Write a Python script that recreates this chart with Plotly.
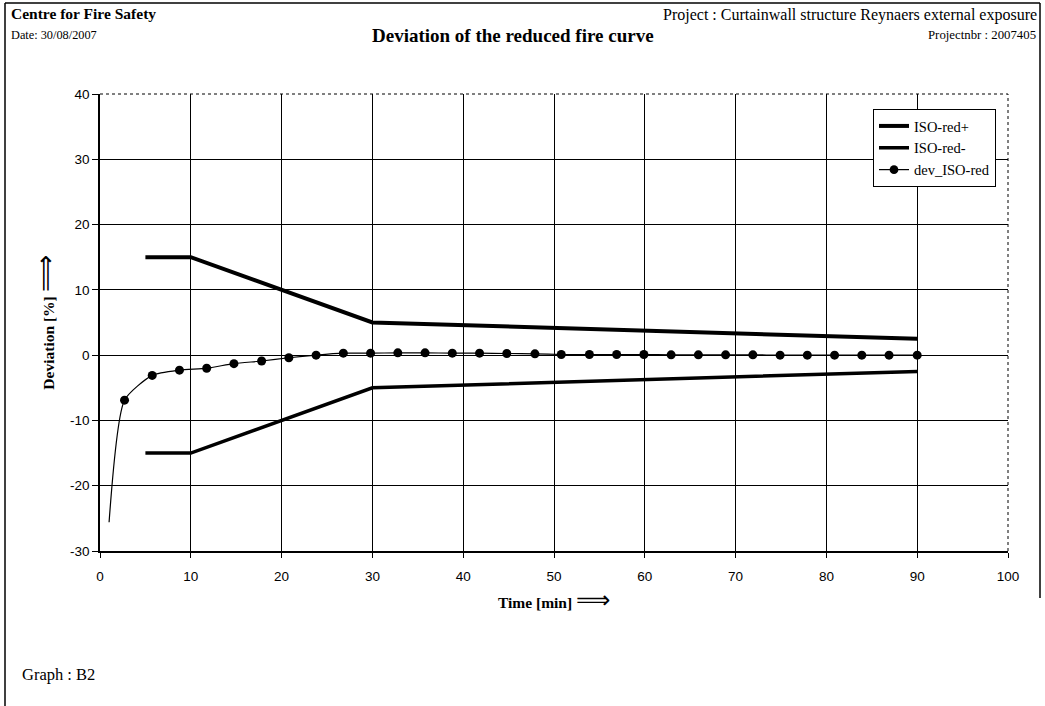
import plotly.graph_objects as go

# ---- data ----
iso_x = [5, 10, 30, 90]
iso_plus = [15, 15, 5, 2.5]
iso_minus = [-15, -15, -5, -2.5]

dev_x = [1.0, 2.7, 5.75, 8.75, 11.75, 14.75, 17.8, 20.8, 23.8, 26.8, 29.8, 32.8, 35.8,
         38.8, 41.8, 44.8, 47.9, 50.8, 53.9, 56.9, 59.9, 62.9, 65.9, 68.9, 71.9,
         74.9, 77.9, 80.9, 83.9, 86.9, 90.0]
dev_y = [-25.6, -6.9, -3.1, -2.3, -2.0, -1.3, -0.9, -0.4, 0.0, 0.3, 0.3, 0.35, 0.35,
         0.3, 0.3, 0.25, 0.2, 0.1, 0.1, 0.1, 0.1, 0.05, 0.05, 0.05, 0.05,
         0.0, 0.0, 0.0, 0.0, 0.0, 0.0]
dev_marker = [0] + [9] * (len(dev_x) - 1)

x_ticks = [0, 10, 20, 30, 40, 50, 60, 70, 80, 90, 100]
y_ticks = [-30, -20, -10, 0, 10, 20, 30, 40]
y_labels = ["-30", "-20", "-10", "0", "10", "20", "30", "40"]

SERIF = "Liberation Serif, Times New Roman, serif"
SANS = "Liberation Sans, Arial, sans-serif"

fig = go.Figure()
fig.add_trace(go.Scatter(x=iso_x, y=iso_plus, mode="lines", name="ISO-red+",
                         line=dict(color="black", width=4)))
fig.add_trace(go.Scatter(x=iso_x, y=iso_minus, mode="lines", name="ISO-red-",
                         line=dict(color="black", width=3.5)))
fig.add_trace(go.Scatter(x=dev_x, y=dev_y, mode="lines+markers", name="dev_ISO-red",
                         line=dict(color="black", width=1.2, shape="spline", smoothing=0.6),
                         marker=dict(color="#000000", size=dev_marker, opacity=1,
                                     line=dict(color="#000000", width=0))))

W, H = 1045, 706
L, R, T, B = 100, 1008, 94, 551
pw, ph = R - L, B - T


def px(x):
    return (x - L) / pw


def py(y):
    return (B - y) / ph


shapes = [
    # dotted top and right plot edges
    dict(type="line", xref="paper", yref="paper", x0=0, x1=1, y0=1, y1=1,
         line=dict(color="black", width=1, dash="dot")),
    dict(type="line", xref="paper", yref="paper", x0=1, x1=1, y0=0, y1=1,
         line=dict(color="black", width=1, dash="dot")),
    # page frame
    dict(type="line", xref="paper", yref="paper", x0=px(5), x1=px(1040), y0=py(3), y1=py(3),
         line=dict(color="black", width=1.5)),
    dict(type="line", xref="paper", yref="paper", x0=px(5), x1=px(5), y0=py(3), y1=py(706),
         line=dict(color="black", width=1.5)),
    dict(type="line", xref="paper", yref="paper", x0=px(1040), x1=px(1040), y0=py(3), y1=py(598),
         line=dict(color="black", width=1.5)),
]

annotations = [
    dict(text="<b>Centre for Fire Safety</b>", x=px(9), y=py(13), xanchor="left", yanchor="middle",
         font=dict(family=SERIF, size=15.5, color="black")),
    dict(text="Date: 30/08/2007", x=px(9), y=py(35), xanchor="left", yanchor="middle",
         font=dict(family=SERIF, size=12.3, color="black")),
    dict(text="<b>Deviation of the reduced fire curve</b>", x=px(513), y=py(36), xanchor="center",
         yanchor="middle", font=dict(family=SERIF, size=19, color="black")),
    dict(text="Project : Curtainwall structure Reynaers external exposure", x=px(1039), y=py(15),
         xanchor="right", yanchor="middle", font=dict(family=SERIF, size=16, color="black")),
    dict(text="Projectnbr : 2007405", x=px(1038), y=py(35), xanchor="right", yanchor="middle",
         font=dict(family=SERIF, size=12.8, color="black")),
    dict(text="Graph : B2", x=px(20), y=py(674), xanchor="left", yanchor="middle",
         font=dict(family=SERIF, size=16.5, color="black")),
]
for a in annotations:
    a.update(xref="paper", yref="paper", showarrow=False)

fig.update_layout(
    width=W, height=H,
    margin=dict(l=L, r=W - R, t=T, b=H - B),
    paper_bgcolor="white", plot_bgcolor="white",
    showlegend=True,
    legend=dict(x=px(873), y=py(109), xanchor="left", yanchor="top",
                bgcolor="white", bordercolor="black", borderwidth=1,
                font=dict(family=SERIF, size=14.5, color="black"),
                tracegroupgap=0, itemwidth=30),
    shapes=shapes,
    annotations=annotations,
)
fig.update_xaxes(range=[0, 100], tickvals=x_ticks, ticks="outside", ticklen=5, tickcolor="black",
                 ticklabelstandoff=7,
                 showgrid=True, gridcolor="black", gridwidth=1, zeroline=False,
                 showline=True, linecolor="black", linewidth=1.5,
                 tickfont=dict(family=SANS, size=13.5, color="black"),
                 title=dict(text="<b>Time [min] </b><span style='font-size:24px'>⟹</span>", standoff=14,
                            font=dict(family=SERIF, size=15.5, color="black")))
fig.update_yaxes(range=[-30, 40], tickvals=y_ticks, ticktext=y_labels, ticks="outside", ticklen=6,
                 tickcolor="black",
                 showgrid=True, gridcolor="black", gridwidth=1, zeroline=False,
                 showline=True, linecolor="black", linewidth=1.5,
                 tickfont=dict(family=SANS, size=13.5, color="black"),
                 title=dict(text="<b>Deviation [%] </b><span style='font-size:26px'>⟹</span>", standoff=12,
                            font=dict(family=SERIF, size=15.5, color="black")))

fig.write_html("out.html", config={"displayModeBar": False},
               post_script="document.body.style.margin='0';")
